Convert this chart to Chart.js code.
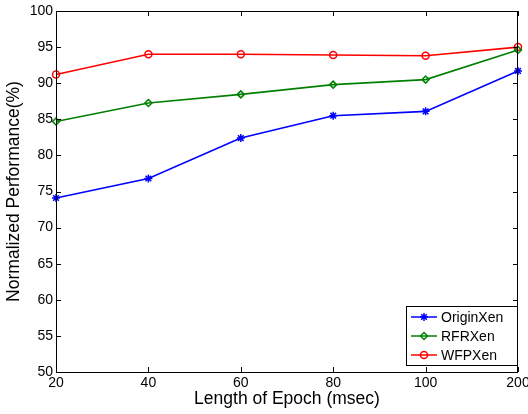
<!DOCTYPE html>
<html>
<head>
<meta charset="utf-8">
<script src="https://cdn.jsdelivr.net/npm/chart.js@4.4.0/dist/chart.umd.min.js"></script>
<style>
  body { margin: 0; background: #fff; }
  canvas { display: block; }
</style>
</head>
<body>
<canvas id="epochChart" width="528" height="414"></canvas>
<script>
// Data
const epochLengths = ['20', '40', '60', '80', '100', '200'];
const originXen = [74.1, 76.8, 82.4, 85.5, 86.1, 91.7];
const rfrXen = [84.7, 87.25, 88.45, 89.8, 90.5, 94.6];
const wfpXen = [91.2, 94.0, 94.0, 93.9, 93.8, 95.0];
const yTicks = [50, 55, 60, 65, 70, 75, 80, 85, 90, 95, 100];

const fontFamily = '"Liberation Sans", Arial, sans-serif';

// Box around the plot with MATLAB-like inward ticks
const framePlugin = {
    id: 'frame',
    afterDraw(chart) {
        const ctx = chart.ctx;
        const area = chart.chartArea;
        const xScale = chart.scales.x;
        const yScale = chart.scales.y;
        const tick = 5;
        ctx.save();
        ctx.strokeStyle = '#000';
        ctx.lineWidth = 1;
        ctx.strokeRect(area.left + 0.5, area.top + 0.5, area.right - area.left - 1, area.bottom - area.top);
        ctx.beginPath();
        epochLengths.forEach((_, i) => {
            const x = Math.round(xScale.getPixelForValue(i)) + 0.5;
            ctx.moveTo(x, area.bottom);
            ctx.lineTo(x, area.bottom - tick);
            ctx.moveTo(x, area.top);
            ctx.lineTo(x, area.top + tick);
        });
        yTicks.forEach(v => {
            const y = Math.round(yScale.getPixelForValue(v)) + 0.5;
            ctx.moveTo(area.left, y);
            ctx.lineTo(area.left + tick, y);
            ctx.moveTo(area.right, y);
            ctx.lineTo(area.right - tick, y);
        });
        ctx.stroke();
        ctx.restore();
    }
};

// Legend box in the lower right corner of the plot
const legendBoxPlugin = {
    id: 'legendBox',
    afterDraw(chart) {
        const ctx = chart.ctx;
        const area = chart.chartArea;
        const boxW = 111, boxH = 59;
        const left = area.right - boxW - 1;
        const top = area.bottom - boxH - 7;
        ctx.save();
        ctx.fillStyle = '#fff';
        ctx.fillRect(left, top, boxW, boxH);
        ctx.strokeStyle = '#000';
        ctx.lineWidth = 1;
        ctx.strokeRect(left + 0.5, top + 0.5, boxW, boxH);
        ctx.font = '14px ' + fontFamily;
        ctx.textBaseline = 'middle';
        chart.data.datasets.forEach((ds, i) => {
            const y = top + 11 + i * 19;
            ctx.strokeStyle = ds.borderColor;
            ctx.lineWidth = 1.5;
            ctx.beginPath();
            ctx.moveTo(left + 5, y);
            ctx.lineTo(left + 31, y);
            ctx.stroke();
            ctx.fillStyle = 'rgba(0,0,0,0)';
            Chart.helpers.drawPoint(ctx, {
                pointStyle: ds.pointStyle,
                radius: ds.pointRadius,
                rotation: 0,
                borderWidth: 1.3
            }, left + 18, y);
            ctx.fillStyle = '#000';
            ctx.fillText(ds.label, left + 35, y + 1);
        });
        ctx.restore();
    }
};

function makeDataset(label, data, color, style, radius) {
    return {
        label: label,
        data: data,
        borderColor: color,
        backgroundColor: color,
        borderWidth: 1.6,
        pointStyle: style,
        pointRadius: radius,
        pointBorderColor: color,
        pointBackgroundColor: 'rgba(0,0,0,0)',
        pointBorderWidth: 1.5,
        tension: 0
    };
}

new Chart(document.getElementById('epochChart'), {
    type: 'line',
    data: {
        labels: epochLengths,
        datasets: [
            makeDataset('OriginXen', originXen, '#0000ff', 'star', 4),
            makeDataset('RFRXen', rfrXen, '#008000', 'rectRot', 3.5),
            makeDataset('WFPXen', wfpXen, '#ff0000', 'circle', 3.5)
        ]
    },
    options: {
        responsive: false,
        animation: false,
        layout: { padding: { top: 11, right: 10, left: 0, bottom: 0 } },
        plugins: {
            legend: { display: false },
            tooltip: { enabled: false }
        },
        scales: {
            x: {
                type: 'category',
                offset: false,
                grid: { display: false, drawTicks: false },
                border: { display: false },
                ticks: {
                    color: '#000',
                    font: { family: fontFamily, size: 14 },
                    padding: 3,
                    maxRotation: 0,
                    autoSkip: false
                },
                title: {
                    display: true,
                    text: 'Length of Epoch (msec)',
                    color: '#000',
                    font: { family: fontFamily, size: 17.5 },
                    padding: { top: 0, bottom: 4 }
                },
                afterFit(scale) {
                    scale.height = 42;
                    scale.paddingLeft = 0;
                    scale.paddingRight = 0;
                }
            },
            y: {
                min: 50,
                max: 100,
                grid: { display: false, drawTicks: false },
                border: { display: false },
                ticks: {
                    stepSize: 5,
                    color: '#000',
                    font: { family: fontFamily, size: 14 },
                    padding: 3
                },
                title: {
                    display: true,
                    text: 'Normalized Performance(%)',
                    color: '#000',
                    font: { family: fontFamily, size: 17.5 },
                    padding: { top: 4, bottom: 0 }
                },
                afterFit(scale) {
                    scale.width = 56;
                    scale.paddingTop = 0;
                    scale.paddingBottom = 0;
                }
            }
        }
    },
    plugins: [framePlugin, legendBoxPlugin]
});
</script>
</body>
</html>
